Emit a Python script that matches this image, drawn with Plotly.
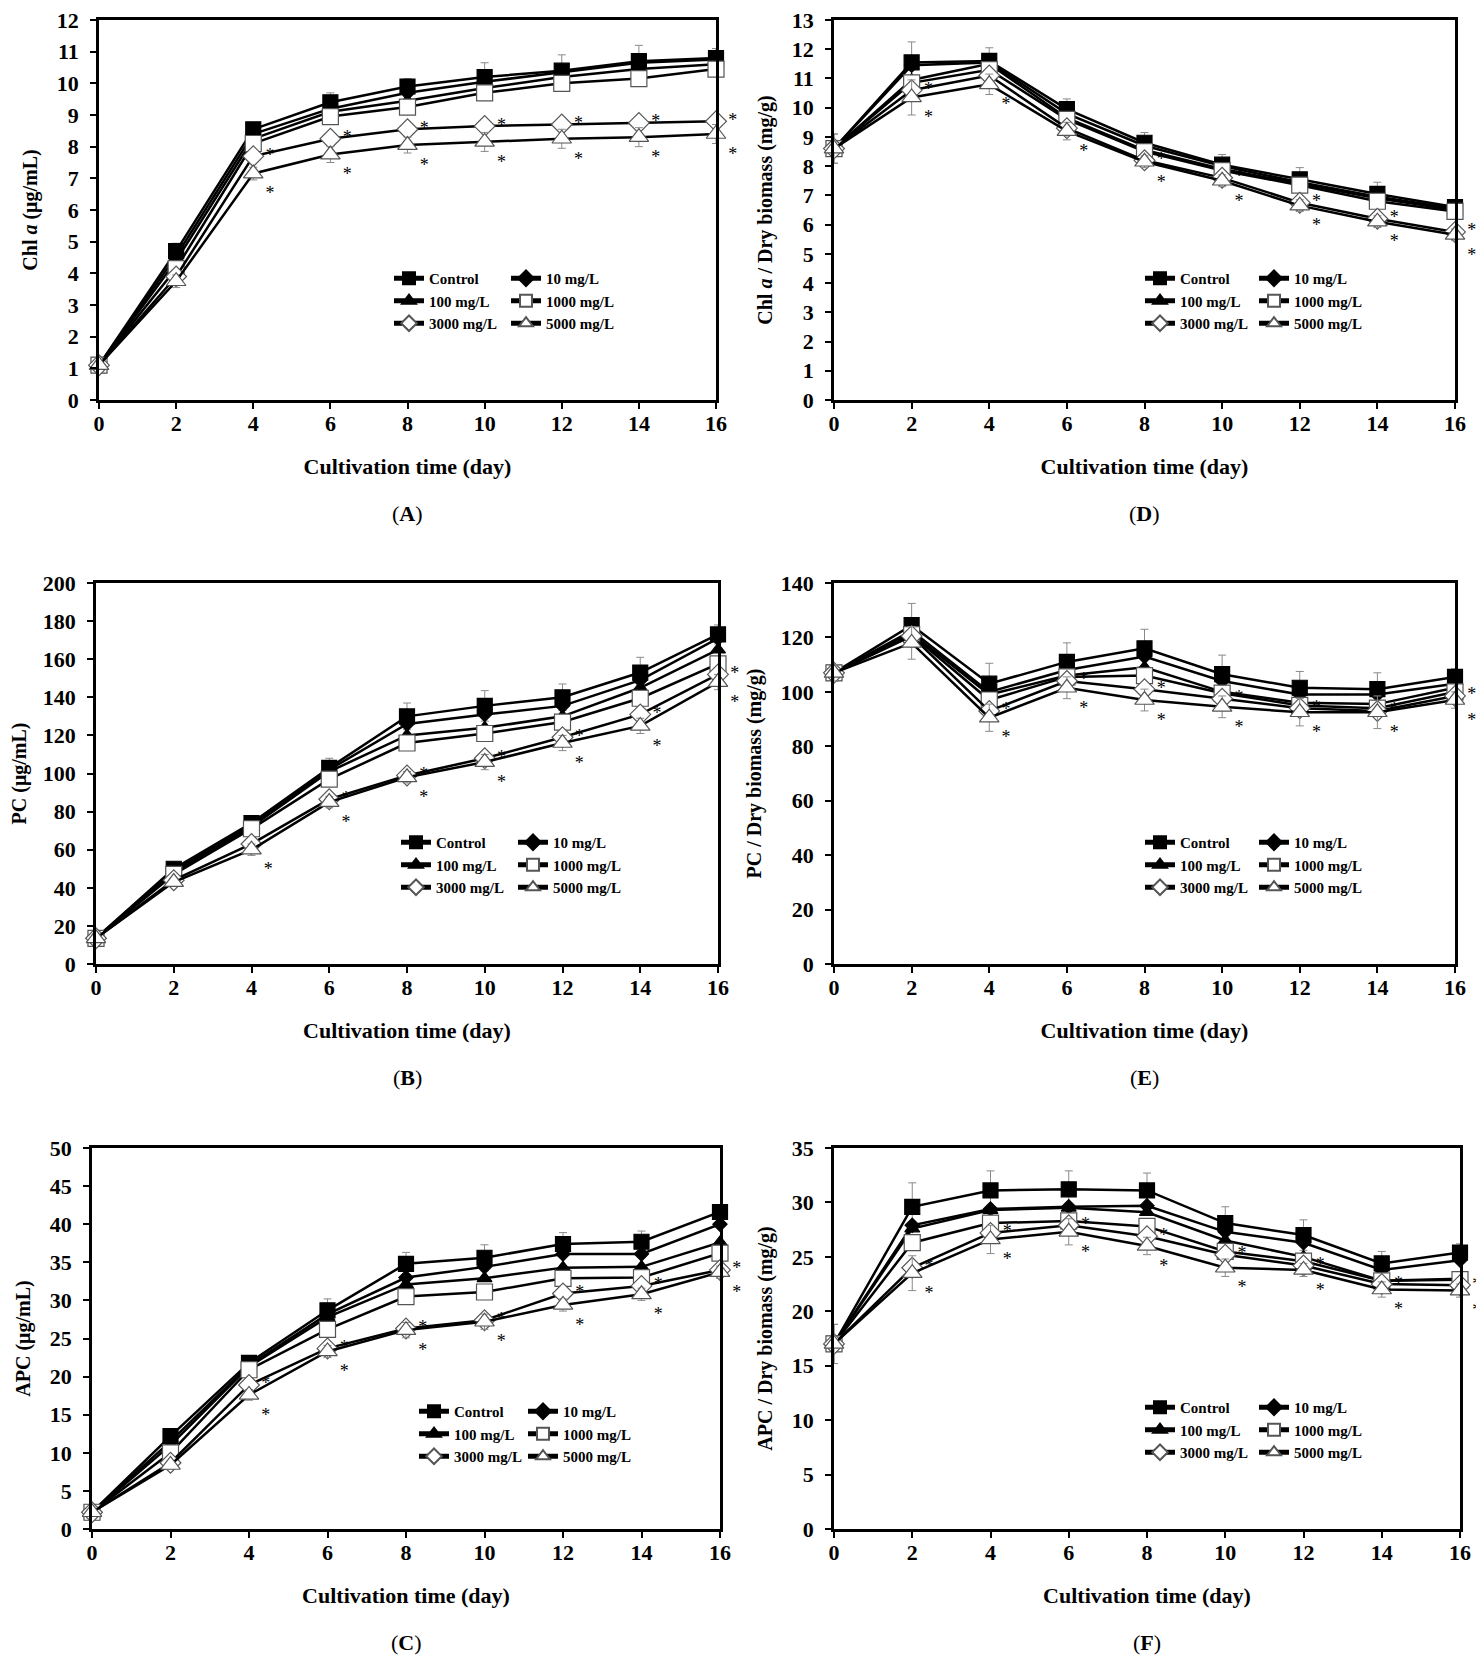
import plotly.graph_objects as go

W, H = 1484, 1662
OFF_X, OFF_Y = 8, 6  # the page body margin shifts the figure

days = [0, 2, 4, 6, 8, 10, 12, 14, 16]
groups = ["Control", "10 mg/L", "100 mg/L", "1000 mg/L", "3000 mg/L", "5000 mg/L"]

# (A) Chl a (ug/mL), rows follow groups
chla = [
    [1.1, 4.7, 8.55, 9.4, 9.9, 10.2, 10.4, 10.7, 10.8],
    [1.1, 4.55, 8.4, 9.2, 9.7, 10.05, 10.35, 10.65, 10.75],
    [1.1, 4.4, 8.25, 9.1, 9.45, 9.85, 10.2, 10.45, 10.6],
    [1.1, 4.15, 8.1, 8.95, 9.25, 9.7, 10.0, 10.15, 10.45],
    [1.1, 3.9, 7.7, 8.25, 8.55, 8.65, 8.7, 8.75, 8.8],
    [1.1, 3.75, 7.15, 7.75, 8.05, 8.15, 8.25, 8.3, 8.4],
]
chla_sd_ctrl = [0.1, 0.25, 0.15, 0.3, 0.25, 0.45, 0.5, 0.5, 0.3]
chla_sd_low = [0.1, 0.2, 0.2, 0.25, 0.25, 0.3, 0.3, 0.3, 0.3]

# (D) Chl a / dry biomass (mg/g)
chla_dw = [
    [8.6, 11.55, 11.6, 9.95, 8.8, 8.05, 7.55, 7.05, 6.6],
    [8.6, 11.45, 11.55, 9.8, 8.7, 8.0, 7.45, 6.95, 6.55],
    [8.6, 10.95, 11.5, 9.65, 8.55, 7.9, 7.4, 6.9, 6.5],
    [8.6, 10.85, 11.3, 9.6, 8.5, 7.85, 7.35, 6.8, 6.45],
    [8.6, 10.6, 11.1, 9.3, 8.2, 7.6, 6.75, 6.2, 5.75],
    [8.6, 10.35, 10.8, 9.2, 8.15, 7.5, 6.65, 6.1, 5.65],
]
chla_dw_sd_ctrl = [0.5, 0.7, 0.45, 0.35, 0.35, 0.35, 0.4, 0.4, 0.2]
chla_dw_sd_low = [0.5, 0.6, 0.35, 0.3, 0.2, 0.2, 0.2, 0.2, 0.2]

# (B) PC (ug/mL)
pc = [
    [13.5, 50, 74, 103, 130, 135.5, 140, 153, 173],
    [13.5, 49, 73, 102, 126, 131, 135.5, 149, 171],
    [13.5, 48, 72, 101, 120, 124, 130, 145, 165],
    [13.5, 47, 71, 97, 116, 121, 127, 139.5, 157.5],
    [13.5, 44, 63, 86.5, 99, 108, 119, 131, 152],
    [13.5, 43, 60, 85, 98, 106, 116, 125, 148],
]
pc_sd_ctrl = [2, 2, 3, 5, 7, 8, 7, 8, 5]
pc_sd_low = [2, 2, 3, 3, 3, 4, 4, 4, 4]

# (E) PC / dry biomass (mg/g)
pc_dw = [
    [107, 124.5, 103, 111, 116, 106.5, 101.5, 101, 105.5],
    [107, 122.5, 100, 108, 113, 104, 99, 99, 103],
    [107, 121.5, 99, 106, 109, 100, 96, 95.5, 101.5],
    [107, 121, 97, 105.5, 106, 99.5, 95, 94, 100],
    [107, 120.5, 93, 104, 101, 97.5, 94, 93, 98.5],
    [107, 118, 90.5, 101.5, 97, 94.5, 92.5, 92.5, 97],
]
pc_dw_sd_ctrl = [3, 8, 7.5, 7, 7, 7, 6, 6, 3]
pc_dw_sd_low = [3, 6, 5, 4, 4, 4, 5, 6, 3]

# (C) APC (ug/mL)
apc = [
    [2.2, 12.2, 21.8, 28.7, 34.8, 35.6, 37.4, 37.7, 41.6],
    [2.2, 11.5, 21.5, 28.2, 33.0, 34.4, 36.1, 36.1, 40.0],
    [2.2, 11.0, 21.3, 27.8, 32.1, 32.9, 34.3, 34.4, 37.6],
    [2.2, 10.0, 20.9, 26.2, 30.5, 31.1, 32.9, 33.0, 36.2],
    [2.2, 8.7, 18.9, 23.7, 26.3, 27.4, 30.9, 31.9, 34.0],
    [2.2, 8.4, 17.6, 23.3, 26.1, 27.2, 29.4, 30.8, 33.7],
]
apc_sd_ctrl = [0.4, 0.5, 0.9, 1.5, 1.5, 1.7, 1.5, 1.4, 0.8]
apc_sd_low = [0.4, 0.5, 0.7, 0.8, 1.0, 1.0, 0.8, 0.8, 0.8]

# (F) APC / dry biomass (mg/g)
apc_dw = [
    [17.0, 29.6, 31.1, 31.2, 31.1, 28.1, 27.0, 24.4, 25.4],
    [17.0, 27.9, 29.4, 29.6, 29.7, 27.3, 26.3, 23.8, 24.7],
    [17.0, 27.6, 29.3, 29.5, 29.1, 26.5, 25.0, 22.8, 23.0],
    [17.0, 26.3, 28.1, 28.3, 27.8, 25.5, 24.6, 22.8, 22.9],
    [17.0, 24.0, 27.2, 27.9, 26.9, 25.2, 24.2, 22.5, 22.4],
    [17.0, 23.5, 26.6, 27.3, 26.0, 24.0, 23.8, 22.0, 21.9],
]
apc_dw_sd_ctrl = [1.8, 2.2, 1.8, 1.7, 1.6, 1.5, 1.4, 1.1, 0.8]
apc_dw_sd_low = [1.8, 1.6, 1.3, 1.2, 0.8, 0.8, 0.6, 0.7, 0.6]

# days marked with * for the 3000 and 5000 mg/L series
stars_a = ([4, 6, 8, 10, 12, 14, 16], [4, 6, 8, 10, 12, 14, 16])
stars_d = ([2, 8, 10, 12, 14, 16], [2, 4, 6, 8, 10, 12, 14, 16])
stars_b = ([6, 8, 10, 12, 14, 16], [4, 6, 8, 10, 12, 14, 16])
stars_e = ([4, 6, 8, 10, 12, 14, 16], [4, 6, 8, 10, 12, 14, 16])
stars_c = ([4, 6, 8, 10, 12, 14, 16], [4, 6, 8, 10, 12, 14, 16])
stars_f = ([2, 4, 6, 8, 10, 12, 14, 16], [2, 4, 6, 8, 10, 12, 14, 16])

symbols = ["square", "diamond", "triangle-up", "square", "diamond", "triangle-up"]
fills = ["black", "black", "black", "white", "white", "white"]
edges = ["black", "black", "black", "#555555", "#555555", "#555555"]
sizes = [15, 11, 13, 16, 16, 17]

FONT = "Liberation Serif"

# panel boxes in pixels: left, right, top, bottom
panels = [
    dict(tag="A", data=chla, sd=(chla_sd_ctrl, chla_sd_low), stars=stars_a,
         ytitle="Chl <i>a</i> (μg/mL)", yr=[0, 12], dt=1,
         box=(99, 716, 18, 398), leg=(431, 548, 278)),
    dict(tag="D", data=chla_dw, sd=(chla_dw_sd_ctrl, chla_dw_sd_low), stars=stars_d,
         ytitle="Chl <i>a</i> / Dry biomass (mg/g)", yr=[0, 13], dt=1,
         box=(834, 1455, 18, 398), leg=(1182, 1296, 278)),
    dict(tag="B", data=pc, sd=(pc_sd_ctrl, pc_sd_low), stars=stars_b,
         ytitle="PC (μg/mL)", yr=[0, 200], dt=20,
         box=(96, 718, 581, 962), leg=(438, 555, 842)),
    dict(tag="E", data=pc_dw, sd=(pc_dw_sd_ctrl, pc_dw_sd_low), stars=stars_e,
         ytitle="PC / Dry biomass (mg/g)", yr=[0, 140], dt=20,
         box=(834, 1455, 581, 962), leg=(1182, 1296, 842)),
    dict(tag="C", data=apc, sd=(apc_sd_ctrl, apc_sd_low), stars=stars_c,
         ytitle="APC (μg/mL)", yr=[0, 50], dt=5,
         box=(92, 720, 1146, 1527), leg=(456, 565, 1411)),
    dict(tag="F", data=apc_dw, sd=(apc_dw_sd_ctrl, apc_dw_sd_low), stars=stars_f,
         ytitle="APC / Dry biomass (mg/g)", yr=[0, 35], dt=5,
         box=(834, 1460, 1146, 1527), leg=(1182, 1296, 1407)),
]


def px_x(v):
    return (v - OFF_X) / W


def px_y(v):
    return 1 - (v - OFF_Y) / H


fig = go.Figure()
layout = dict(width=W, height=H, margin=dict(l=0, r=0, t=0, b=0, autoexpand=False),
              paper_bgcolor="white", plot_bgcolor="white", annotations=[])

for i, p in enumerate(panels):
    n = i + 1
    xa = "x" if n == 1 else f"x{n}"
    ya = "y" if n == 1 else f"y{n}"
    leg1 = "legend" if n == 1 else f"legend{2 * n - 1}"
    leg2 = f"legend{2 * n}"

    for k, g in enumerate(groups):
        err = None
        if k == 0:
            err = p["sd"][0]
        elif k == 5:
            err = p["sd"][1]
        fig.add_trace(go.Scatter(
            x=days, y=p["data"][k], name=g, mode="lines+markers",
            xaxis=xa, yaxis=ya, legend=leg1 if k % 2 == 0 else leg2,
            line=dict(color="black", width=2.5),
            marker=dict(symbol=symbols[k], size=sizes[k], color=fills[k],
                        line=dict(color=edges[k], width=1.2)),
            error_y=dict(type="data", array=err, visible=err is not None,
                         color="#8a8a8a", thickness=1, width=4),
            cliponaxis=False,
        ))

    # significance asterisks: beside the 3000 mg/L points, below-right of 5000 mg/L
    for s, k, pos in zip(p["stars"], (4, 5), ("middle right", "bottom right")):
        ys = [p["data"][k][days.index(d)] for d in s]
        fig.add_trace(go.Scatter(
            x=s, y=ys, mode="markers+text", text=["*"] * len(s),
            textposition=pos, xaxis=xa, yaxis=ya,
            marker=dict(size=18, color="white", opacity=0), showlegend=False,
            textfont=dict(family=FONT, size=18, color="black"),
            hoverinfo="skip", cliponaxis=False,
        ))

    l, r, t, b = p["box"]
    axis_common = dict(showline=True, linecolor="black", linewidth=2.5, mirror=True,
                       ticks="outside", ticklen=6, tickwidth=2, tickcolor="black",
                       showgrid=False, zeroline=False, automargin=False,
                       ticklabeloverflow="allow",
                       tickfont=dict(family=FONT, size=22, color="black", weight="bold"))
    layout["xaxis" if n == 1 else f"xaxis{n}"] = dict(
        axis_common, domain=[px_x(l), px_x(r)], anchor=ya, range=[0, 16],
        tickmode="linear", tick0=0, dtick=2, ticklabelstandoff=-4,
        title=dict(text="Cultivation time (day)", standoff=24,
                   font=dict(family=FONT, size=22, color="black", weight="bold")))
    layout["yaxis" if n == 1 else f"yaxis{n}"] = dict(
        axis_common, domain=[px_y(b), px_y(t)], anchor=xa, range=p["yr"],
        tickmode="linear", tick0=0, dtick=p["dt"], ticklabelstandoff=7,
        title=dict(text=p["ytitle"], standoff=14,
                   font=dict(family=FONT, size=20, color="black", weight="bold")))

    lx1, lx2, ly = p["leg"]
    for name, lx in ((leg1, lx1), (leg2, lx2)):
        layout[name] = dict(x=px_x(lx - 42), y=px_y(ly - 18),
                            xref="paper", yref="paper", xanchor="left", yanchor="top",
                            bgcolor="rgba(0,0,0,0)", itemwidth=30, tracegroupgap=0,
                            itemsizing="constant",
                            font=dict(family=FONT, size=15, color="black", weight="bold"))

    layout["annotations"].append(dict(
        text=f"(<b>{p['tag']}</b>)", x=px_x((l + r) / 2), y=px_y(b + 113),
        xref="paper", yref="paper", showarrow=False, xanchor="center", yanchor="middle",
        font=dict(family=FONT, size=22, color="black")))

fig.update_layout(**layout)
fig.write_html("out.html")
